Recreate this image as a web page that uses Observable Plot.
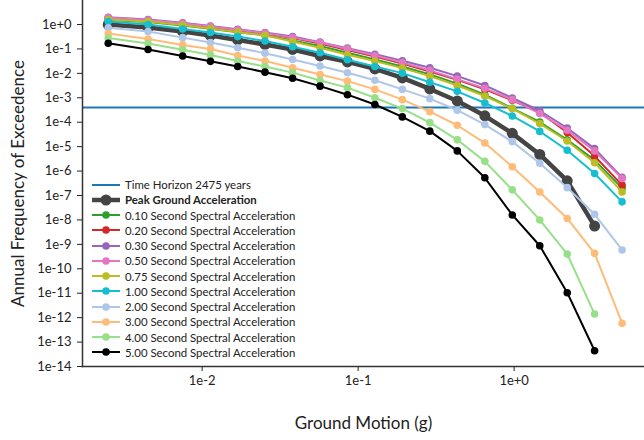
<!DOCTYPE html>
<html>
<head>
<meta charset="utf-8">
<script src="https://cdn.jsdelivr.net/npm/d3@7"></script>
<script src="https://cdn.jsdelivr.net/npm/@observablehq/plot@0.6"></script>
<style>
  body { margin: 0; background: #fff; font-family: Lato, "Open Sans", sans-serif; }
  #wrap { position: relative; width: 644px; height: 440px; }
  #legend { position: absolute; left: 92px; top: 177px; font-size: 11.4px; color: #222; }
  .row { display: flex; align-items: center; height: 15.25px; white-space: nowrap; }
  .row svg { margin-right: 5px; }
</style>
</head>
<body>
<div id="wrap"><div id="legend"></div></div>
<script>
// Ground motion levels (g)
const groundMotion = [0.0025, 0.0045, 0.0075, 0.0113, 0.0169, 0.0253, 0.038, 0.057, 0.0854, 0.128, 0.192, 0.288, 0.432, 0.649, 0.973, 1.46, 2.19, 3.28, 4.92];

const timeHorizonYears = 2475;
const timeHorizonLabel = "Time Horizon 2475 years";

const seriesNames = [
  "Peak Ground Acceleration",
  "0.10 Second Spectral Acceleration",
  "0.20 Second Spectral Acceleration",
  "0.30 Second Spectral Acceleration",
  "0.50 Second Spectral Acceleration",
  "0.75 Second Spectral Acceleration",
  "1.00 Second Spectral Acceleration",
  "2.00 Second Spectral Acceleration",
  "3.00 Second Spectral Acceleration",
  "4.00 Second Spectral Acceleration",
  "5.00 Second Spectral Acceleration"
];
const seriesColors = ["#444444", "#2ca02c", "#d62728", "#9467bd", "#e377c2", "#bcbd22", "#17becf", "#aec7e8", "#ffbb78", "#98df8a", "#000000"];

// Annual frequency of exceedance per series
const pga    = [1.0, 0.754, 0.518, 0.355, 0.233, 0.152, 0.095, 0.0516, 0.0294, 0.0152, 0.0065, 0.0023, 7.4e-4, 1.83e-4, 3.5e-5, 4.8e-6, 4.0e-7, 5.6e-9];
const sa010  = [1.53, 1.26, 0.91, 0.67, 0.48, 0.36, 0.22, 0.132, 0.07, 0.037, 0.0192, 0.0091, 0.0038, 0.00134, 3.7e-4, 1.02e-4, 1.9e-5, 2.8e-6, 2.0e-7];
const sa020  = [1.79, 1.46, 1.07, 0.79, 0.58, 0.43, 0.28, 0.168, 0.091, 0.049, 0.0255, 0.012, 0.0054, 0.0022, 7.9e-4, 2.5e-4, 3.8e-5, 4.1e-6, 2.65e-7];
const sa030  = [1.97, 1.6, 1.17, 0.87, 0.64, 0.47, 0.32, 0.19, 0.108, 0.06, 0.033, 0.017, 0.0077, 0.0032, 9.8e-4, 2.95e-4, 5.8e-5, 8.3e-6, 5.5e-7];
const sa050  = [1.88, 1.53, 1.12, 0.83, 0.61, 0.45, 0.29, 0.184, 0.1, 0.054, 0.028, 0.0132, 0.0058, 0.00243, 8.4e-4, 2.25e-4, 4.7e-5, 6.7e-6, 5.0e-7];
const sa075  = [1.6, 1.33, 0.95, 0.69, 0.49, 0.36, 0.2, 0.112, 0.058, 0.032, 0.0164, 0.0077, 0.0032, 0.00118, 3.6e-4, 8.8e-5, 1.7e-5, 2.2e-6, 1.4e-7];
const sa100  = [1.33, 1.0, 0.65, 0.47, 0.32, 0.21, 0.123, 0.07, 0.036, 0.0192, 0.0102, 0.0043, 0.00183, 6.1e-4, 1.8e-4, 4.2e-5, 7.1e-6, 8.0e-7, 5.5e-8];
const sa200  = [0.73, 0.52, 0.29, 0.184, 0.112, 0.067, 0.037, 0.02, 0.0106, 0.0052, 0.0022, 9.2e-4, 3.1e-4, 8.0e-5, 1.6e-5, 2.1e-6, 2.1e-7, 1.7e-8, 5.9e-10];
const sa300  = [0.43, 0.256, 0.146, 0.1, 0.054, 0.032, 0.017, 0.009, 0.0048, 0.0022, 8.4e-4, 2.7e-4, 7.5e-5, 1.4e-5, 1.5e-6, 1.4e-7, 1.15e-8, 4.3e-10, 5.9e-13];
const sa400  = [0.28, 0.167, 0.093, 0.056, 0.032, 0.019, 0.0107, 0.0051, 0.0026, 0.001, 3.6e-4, 9.6e-5, 1.9e-5, 2.5e-6, 1.7e-7, 1.0e-8, 4.0e-10, 1.4e-12];
const sa500  = [0.17, 0.095, 0.051, 0.031, 0.019, 0.0112, 0.0063, 0.003, 0.00134, 5.3e-4, 1.65e-4, 4.3e-5, 6.7e-6, 5.3e-7, 1.6e-8, 8.8e-10, 1.05e-11, 4.4e-14];

const seriesValues = [pga, sa010, sa020, sa030, sa050, sa075, sa100, sa200, sa300, sa400, sa500];

const yTicks = d3.range(-14, 1).map(k => Math.pow(10, k));
const xTicks = [0.01, 0.1, 1];

function fmtExp(d) {
  const e = Math.round(Math.log10(d));
  return "1e" + (e >= 0 ? "+" : "") + e;
}

const marks = [
  Plot.ruleY([1 / timeHorizonYears], {stroke: "#1f77b4", strokeWidth: 2})
];
seriesValues.forEach((vals, i) => {
  const data = vals.map((v, j) => ({x: groundMotion[j], y: v}));
  const isPGA = i === 0;
  marks.push(Plot.line(data, {x: "x", y: "y", stroke: seriesColors[i], strokeWidth: isPGA ? 4.5 : 2}));
  marks.push(Plot.dot(data, {x: "x", y: "y", fill: seriesColors[i], r: isPGA ? 5.5 : 3.8, stroke: "none"}));
});
marks.push(Plot.axisY({ticks: yTicks, tickFormat: fmtExp, tickSize: 5, tickPadding: 6, fontSize: 13, label: "Annual Frequency of Exceedence", labelAnchor: "center", labelOffset: 71, labelArrow: "none"}));
marks.push(Plot.axisX({ticks: xTicks, tickFormat: fmtExp, tickSize: 5, tickPadding: 4, fontSize: 13, label: "Ground Motion (g)", labelAnchor: "center", labelOffset: 62, labelArrow: "none"}));
marks.push(Plot.frame({anchor: "left", stroke: "#333", strokeWidth: 1.5}));
marks.push(Plot.frame({anchor: "bottom", stroke: "#333", strokeWidth: 1.5}));

const chart = Plot.plot({
  width: 644,
  height: 440,
  marginLeft: 82,
  marginRight: 0,
  marginTop: 0,
  marginBottom: 74,
  style: {fontFamily: "Lato, sans-serif", color: "#222", background: "#fff"},
  x: {type: "log", domain: [0.00171, 6.85]},
  y: {type: "log", domain: [1e-14, 9.6]},
  marks
});
document.getElementById("wrap").prepend(chart);

d3.select(chart).selectAll('g[aria-label="y-axis label"], g[aria-label="x-axis label"]')
  .attr("font-size", 17).attr("fill", "#222");

// Legend
const legend = d3.select("#legend");
const entries = [{label: timeHorizonLabel, color: "#1f77b4", dot: false, bold: false}]
  .concat(seriesNames.map((n, i) => ({label: n, color: seriesColors[i], dot: true, bold: i === 0})));
entries.forEach(e => {
  const row = legend.append("div").attr("class", "row");
  const s = row.append("svg").attr("width", 28).attr("height", 12);
  s.append("line").attr("x1", 0).attr("x2", 28).attr("y1", 6).attr("y2", 6)
    .attr("stroke", e.color).attr("stroke-width", e.bold ? 4.5 : 2);
  if (e.dot) s.append("circle").attr("cx", 14).attr("cy", 6).attr("r", e.bold ? 5.5 : 3.8).attr("fill", e.color);
  row.append("span").style("font-weight", e.bold ? "bold" : "normal").text(e.label);
});
</script>
</body>
</html>
